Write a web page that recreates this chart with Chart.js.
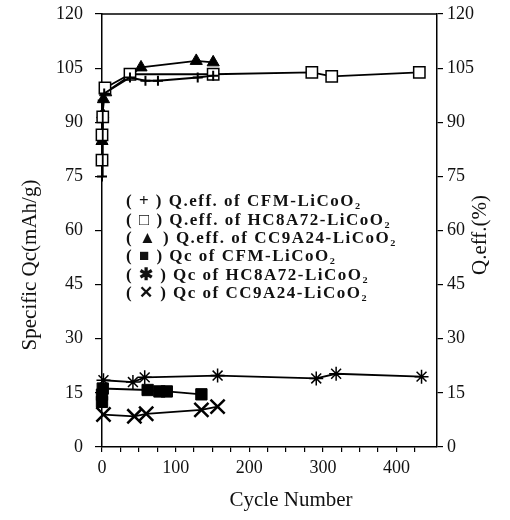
<!DOCTYPE html>
<html>
<head>
<meta charset="utf-8">
<script src="https://cdn.jsdelivr.net/npm/chart.js@4.4.1/dist/chart.umd.min.js"></script>
<style>
    body { margin: 0; background: #fff; }
    #wrap { width: 510px; height: 520px; }
</style>
</head>
<body>
<div id="wrap"><canvas id="cycleChart"></canvas></div>
<script>

// values (cycle number / value)
const effCfmCycles = [0, 1, 3, 38, 59, 76, 130, 151];
const effCfmValues = [75, 96, 98, 102.4, 101.5, 101.5, 102.4, 102.9];

const effHcCycles = [0, 0, 1, 4, 38, 151, 285, 312, 431];
const effHcValues = [79.5, 86.5, 91.5, 99.5, 103.3, 103.3, 103.8, 102.7, 103.8];

const effCcCycles = [0, 1, 2, 5, 38, 53, 128, 151];
const effCcValues = [84.8, 92.2, 96.4, 98.3, 102.9, 105.2, 107, 106.6];

const qcCfmCycles = [0, 0, 1, 62, 78, 88, 135];
const qcCfmValues = [12.5, 14.5, 16.2, 15.8, 15.4, 15.4, 14.6];

const qcHcCycles = [2, 42, 58, 157, 291, 318, 434];
const qcHcValues = [18.5, 18, 19.3, 19.8, 19, 20.3, 19.5];

const qcCcCycles = [2, 44, 60, 135, 157];
const qcCcValues = [9, 8.5, 9.2, 10.3, 11.2];

const seriesLabels = [
    "Q.eff. of CFM-LiCoO\u2082",
    "Q.eff. of HC8A72-LiCoO\u2082",
    "Q.eff. of CC9A24-LiCoO\u2082",
    "Qc of CFM-LiCoO\u2082",
    "Qc of HC8A72-LiCoO\u2082",
    "Qc of CC9A24-LiCoO\u2082"
];
const legendSymbols = ["+", "\u25A1", "\u25B2", "\u25A0", "\u2731", "\u2715"];

const yTicks = [0, 15, 30, 45, 60, 75, 90, 105, 120];
const xLabelStep = 100;

function toPoints(xs, ys) {
    return xs.map((x, i) => ({ x: x, y: ys[i] }));
}

function serie(label, xs, ys, axis, style, radius, fill, width) {
    return {
        label: label,
        data: toPoints(xs, ys),
        yAxisID: axis,
        showLine: true,
        borderColor: "#000",
        borderWidth: 1.8,
        pointStyle: style,
        pointRadius: radius,
        pointHoverRadius: radius,
        pointBorderWidth: width,
        pointBorderColor: "#000",
        pointBackgroundColor: fill,
        clip: false
    };
}

const serifFont = "'Liberation Serif', 'Times New Roman', serif";

const extras = {
    id: "extras",
    afterDraw(chart) {
        const ctx = chart.ctx;
        const area = chart.chartArea;
        ctx.save();

        // top frame line
        ctx.strokeStyle = "#000";
        ctx.lineWidth = 1.5;
        ctx.beginPath();
        ctx.moveTo(area.left, area.top);
        ctx.lineTo(area.right, area.top);
        ctx.stroke();

        // axis titles
        ctx.fillStyle = "#111";
        ctx.font = "21px " + serifFont;
        ctx.textAlign = "center";
        ctx.textBaseline = "middle";
        ctx.fillText("Cycle Number", 291, 500);

        ctx.save();
        ctx.translate(30, 265);
        ctx.rotate(-Math.PI / 2);
        ctx.fillText("Specific Qc(mAh/g)", 0, 0);
        ctx.restore();

        ctx.save();
        ctx.translate(480, 235);
        ctx.rotate(-Math.PI / 2);
        ctx.fillText("Q.eff.(%)", 0, 0);
        ctx.restore();

        // legend inside the plot
        ctx.font = "bold 17px " + serifFont;
        ctx.textAlign = "left";
        ctx.letterSpacing = "1.5px";
        seriesLabels.forEach((label, i) => {
            ctx.fillText("( " + legendSymbols[i] + " ) " + label, 126, 202 + i * 18.3);
        });

        ctx.restore();
    }
};

function fixWidth(width) {
    return scale => {
        scale.width = width;
        scale.paddingTop = 0;
        scale.paddingBottom = 0;
    };
}

const ctx = document.getElementById("cycleChart");

new Chart(ctx, {

    type: "scatter",

    data: {
        datasets: [
            serie(seriesLabels[0], effCfmCycles, effCfmValues, "y2", "cross", 5, "#000", 2),
            serie(seriesLabels[1], effHcCycles, effHcValues, "y2", "rect", 8, "#fff", 1.5),
            serie(seriesLabels[2], effCcCycles, effCcValues, "y2", "triangle", 7, "#000", 1),
            serie(seriesLabels[3], qcCfmCycles, qcCfmValues, "y", "rect", 8, "#000", 1),
            serie(seriesLabels[4], qcHcCycles, qcHcValues, "y", "star", 7, "#000", 1.5),
            serie(seriesLabels[5], qcCcCycles, qcCcValues, "y", "crossRot", 10, "#000", 2.5)
        ]
    },

    options: {
        responsive: true,
        maintainAspectRatio: false,
        animation: false,
        layout: {
            padding: { top: 14, left: 0, right: 0, bottom: 0 }
        },
        plugins: {
            legend: { display: false },
            tooltip: { enabled: false }
        },
        scales: {
            x: {
                type: "linear",
                min: 0,
                max: 455,
                afterFit(scale) {
                    scale.height = 73;
                    scale.paddingLeft = 0;
                    scale.paddingRight = 0;
                },
                afterBuildTicks(scale) {
                    scale.ticks = scale.ticks.filter(t => t.value <= 425);
                },
                ticks: {
                    stepSize: 25,
                    includeBounds: false,
                    autoSkip: false,
                    maxRotation: 0,
                    padding: 5,
                    color: "#111",
                    font: { family: serifFont, size: 18 },
                    callback: v => (v % xLabelStep === 0 ? v : "")
                },
                grid: {
                    drawOnChartArea: false,
                    tickLength: 5,
                    color: "#000",
                    lineWidth: 1.2
                },
                border: { color: "#000", width: 1.5 }
            },
            y: {
                position: "left",
                min: 0,
                max: 120,
                afterFit: fixWidth(102),
                afterBuildTicks(scale) {
                    scale.ticks = yTicks.map(v => ({ value: v }));
                },
                ticks: {
                    padding: 12,
                    color: "#111",
                    font: { family: serifFont, size: 18 }
                },
                grid: {
                    drawOnChartArea: false,
                    tickLength: 7,
                    color: "#000",
                    lineWidth: 1.2
                },
                border: { color: "#000", width: 1.5 }
            },
            y2: {
                position: "right",
                min: 0,
                max: 120,
                afterFit: fixWidth(73),
                afterBuildTicks(scale) {
                    scale.ticks = yTicks.map(v => ({ value: v }));
                },
                ticks: {
                    padding: 4,
                    color: "#111",
                    font: { family: serifFont, size: 18 }
                },
                grid: {
                    drawOnChartArea: false,
                    tickLength: 6,
                    color: "#000",
                    lineWidth: 1.2
                },
                border: { color: "#000", width: 1.5 }
            }
        }
    },

    plugins: [extras]
});
</script>
</body>
</html>
